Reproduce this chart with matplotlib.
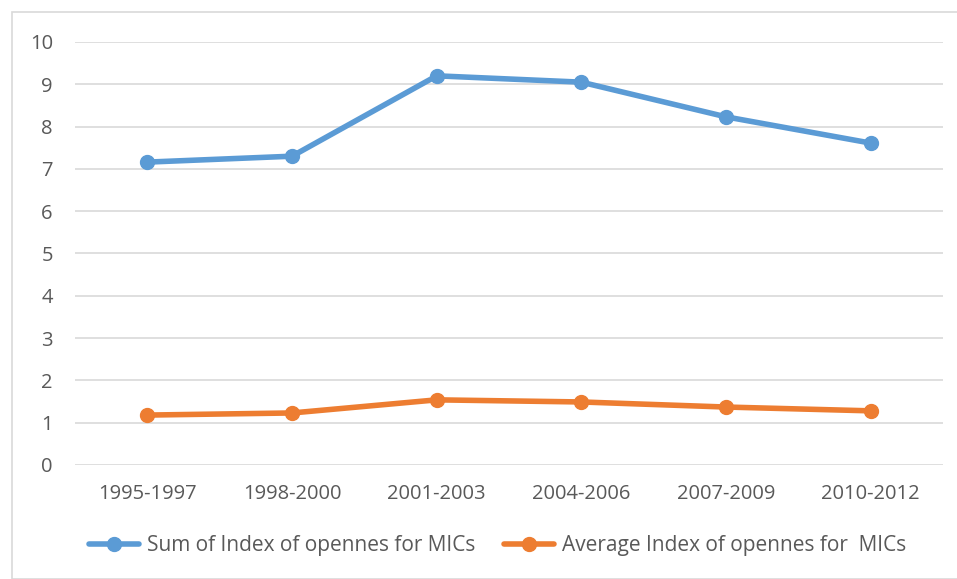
import matplotlib
matplotlib.use('Agg')
import matplotlib.pyplot as plt
from matplotlib.patches import Rectangle
import numpy as np

# periods and index values
periods = ['1995-1997', '1998-2000', '2001-2003', '2004-2006', '2007-2009', '2010-2012']
sum_index = [7.16, 7.30, 9.20, 9.05, 8.23, 7.61]
avg_index = [1.18, 1.23, 1.54, 1.49, 1.37, 1.28]

plt.rcParams['font.family'] = ['Open Sans', 'DejaVu Sans']
txt = '#595959'

fig = plt.figure(figsize=(9.57, 5.79), dpi=100)
ax = fig.add_axes([0.0784, 0.1969, 0.907, 0.7306])

# outer chart border
fig.patches.append(Rectangle((12 / 957, 0), 1, 1 - 12 / 579, transform=fig.transFigure,
                             fill=False, edgecolor='#d9d9d9', linewidth=1.2))

x = np.arange(len(periods))
ax.plot(x, sum_index, color='#5b9bd5', linewidth=4, marker='o', markersize=10,
        label='Sum of Index of opennes for MICs', solid_capstyle='round')
ax.plot(x, avg_index, color='#ed7d31', linewidth=4, marker='o', markersize=10,
        label='Average Index of opennes for  MICs', solid_capstyle='round')

ax.set_xlim(-0.5, len(periods) - 0.5)
ax.set_ylim(0, 10)
ax.set_yticks(range(0, 11))
ax.set_xticks(x)
ax.set_xticklabels(periods)
ax.yaxis.grid(True, color='#d9d9d9', linewidth=1.2)
ax.set_axisbelow(True)
for s in ax.spines.values():
    s.set_visible(False)
ax.tick_params(length=0, labelsize=14.5, labelcolor=txt)
ax.tick_params(axis='y', pad=16)
ax.tick_params(axis='x', pad=14)

leg = fig.legend(loc='center', bbox_to_anchor=(0.52, 0.058), ncol=2, frameon=False,
                 fontsize=15, handlelength=2.4, columnspacing=1.35, handletextpad=0.4)
for t in leg.get_texts():
    t.set_color(txt)

fig.savefig('out.png', dpi=100)
